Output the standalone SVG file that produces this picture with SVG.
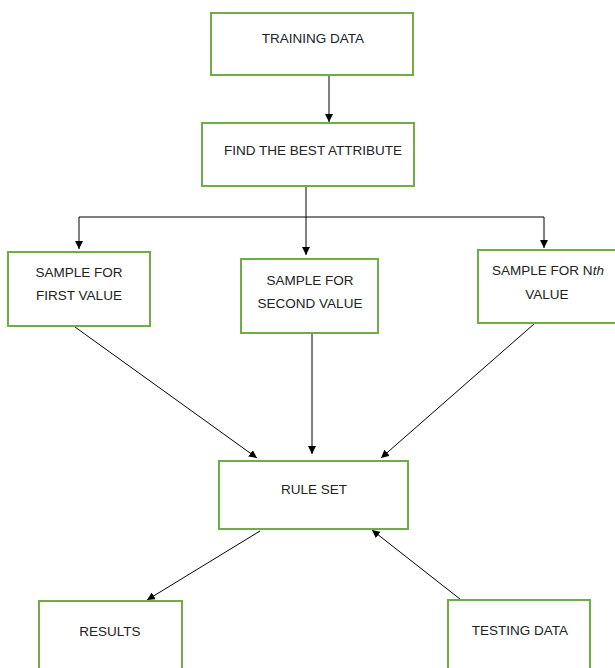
<svg xmlns="http://www.w3.org/2000/svg" width="615" height="668" viewBox="0 0 615 668">
<style>
.box{fill:#fff;stroke:#70AD47;stroke-width:2}
.t{font-family:"Liberation Sans",Arial,sans-serif;font-size:13.5px;fill:#222;text-anchor:middle}
.c{stroke:#000;stroke-width:1;fill:none}
.a{marker-end:url(#ah)}
</style>
<defs>
<marker id="ah" viewBox="0 0 10 10" refX="10" refY="5" markerWidth="8" markerHeight="8" markerUnits="userSpaceOnUse" orient="auto">
<path d="M0,0 L10,5 L0,10 z" fill="#000"/>
</marker>
</defs>
<rect width="615" height="668" fill="#fff"/>
<g id="connectors">
<line class="c a" x1="329" y1="75" x2="329" y2="122"/>
<line class="c" x1="306" y1="186" x2="306" y2="217"/>
<line class="c" x1="79" y1="217" x2="544" y2="217"/>
<line class="c a" x1="79" y1="217" x2="79" y2="249"/>
<line class="c a" x1="306" y1="217" x2="306" y2="255"/>
<line class="c a" x1="544" y1="217" x2="544" y2="248"/>
<line class="c a" x1="75" y1="327" x2="257" y2="458"/>
<line class="c a" x1="312" y1="333" x2="312" y2="454"/>
<line class="c a" x1="534" y1="324" x2="381" y2="458"/>
<line class="c a" x1="260" y1="531" x2="147" y2="600"/>
<line class="c a" x1="465" y1="603" x2="372" y2="530"/>
</g>
<g id="training-data">
<rect class="box" x="211" y="13" width="202" height="62"/>
<text class="t" x="313" y="43">TRAINING DATA</text>
</g>
<g id="find-best-attribute">
<rect class="box" x="202" y="123" width="212" height="63"/>
<text class="t" x="313" y="155">FIND THE BEST ATTRIBUTE</text>
</g>
<g id="sample-first">
<rect class="box" x="8" y="252" width="142" height="74"/>
<text class="t" x="79" y="277">SAMPLE FOR</text>
<text class="t" x="79" y="300">FIRST VALUE</text>
</g>
<g id="sample-second">
<rect class="box" x="241" y="259" width="137" height="74"/>
<text class="t" x="310" y="285">SAMPLE FOR</text>
<text class="t" x="310" y="308">SECOND VALUE</text>
</g>
<g id="sample-nth">
<rect class="box" x="478" y="250" width="140" height="73"/>
<text class="t" x="548" y="275">SAMPLE FOR N<tspan font-style="italic">th</tspan></text>
<text class="t" x="547" y="299">VALUE</text>
</g>
<g id="rule-set">
<rect class="box" x="219" y="461" width="189" height="68"/>
<text class="t" x="314" y="494">RULE SET</text>
</g>
<g id="results">
<rect class="box" x="39" y="601" width="143" height="72"/>
<text class="t" x="110" y="636">RESULTS</text>
</g>
<g id="testing-data">
<rect class="box" x="448" y="600" width="142" height="73"/>
<text class="t" x="520" y="635">TESTING DATA</text>
</g>
</svg>
